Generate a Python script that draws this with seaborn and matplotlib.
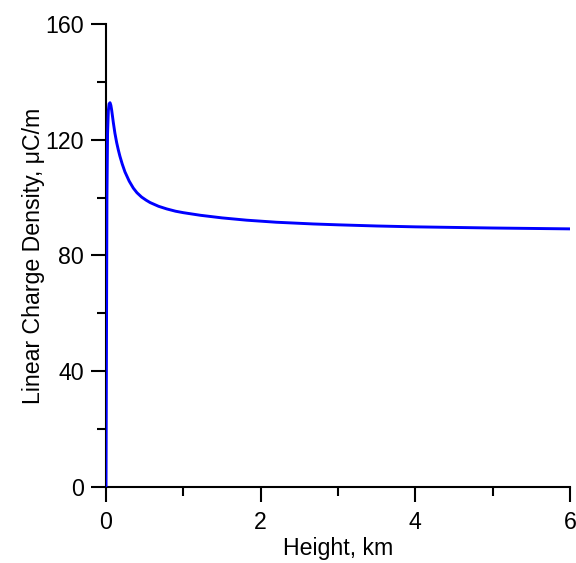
import matplotlib
matplotlib.use("Agg")
import matplotlib.pyplot as plt
import seaborn as sns
import pandas as pd
from matplotlib.ticker import MultipleLocator

height_km = [0.0, 0.006, 0.012, 0.02, 0.03, 0.04, 0.052, 0.063, 0.073, 0.085, 0.095, 0.115,
             0.138, 0.16, 0.18, 0.21, 0.245, 0.3, 0.353, 0.4, 0.46, 0.52, 0.57, 0.68,
             0.785, 0.9, 1.0, 1.22, 1.5, 1.82, 2.2, 2.68, 3.0, 3.5, 4.0, 4.5, 5.0, 5.5, 6.0]
charge_density = [0.0, 50.0, 100.0, 122.0, 130.0, 132.4, 132.8, 131.9, 130.3, 127.9, 125.9,
                  122.3, 119.0, 116.4, 114.3, 111.6, 108.9, 105.7, 103.3, 101.7, 100.2,
                  99.1, 98.3, 97.0, 96.1, 95.3, 94.8, 93.9, 93.0, 92.2, 91.5, 90.9,
                  90.6, 90.2, 89.9, 89.7, 89.5, 89.35, 89.2]

x_ticks = [0, 2, 4, 6]
y_ticks = [0, 40, 80, 120, 160]

sns.set_style("ticks")
plt.rcParams['font.family'] = ['Liberation Sans', 'DejaVu Sans']

df = pd.DataFrame({"h": height_km, "q": charge_density})

fig = plt.figure(figsize=(5.76, 5.63), dpi=100)
ax = fig.add_axes([106/576, (563-487)/563, (570-106)/576, (487-24)/563])
sns.lineplot(data=df, x="h", y="q", ax=ax, color="#0000ff", linewidth=2.1,
             sort=False, estimator=None, zorder=3)

fs = 16.7
ax.set_xlim(0, 6)
ax.set_ylim(0, 160)
ax.set_xticks(x_ticks)
ax.set_yticks(y_ticks)
ax.xaxis.set_minor_locator(MultipleLocator(1))
ax.yaxis.set_minor_locator(MultipleLocator(20))
ax.tick_params(which="major", direction="out", length=10.5, width=1.5, labelsize=fs,
               color="black", labelcolor="black")
ax.tick_params(axis="y", which="major", pad=5.5)
ax.tick_params(axis="x", which="major", pad=6.5)
ax.tick_params(which="minor", direction="out", length=6.5, width=1.5, color="black")
ax.set_xlabel("Height, km", fontsize=fs, labelpad=2.5, color="black")
ax.set_ylabel("Linear Charge Density, \u03bcC/m", fontsize=fs, labelpad=0, color="black")
sns.despine(ax=ax)
for s in ["left", "bottom"]:
    ax.spines[s].set_linewidth(1.5)
    ax.spines[s].set_color("black")

fig.savefig("out.png", dpi=100)
